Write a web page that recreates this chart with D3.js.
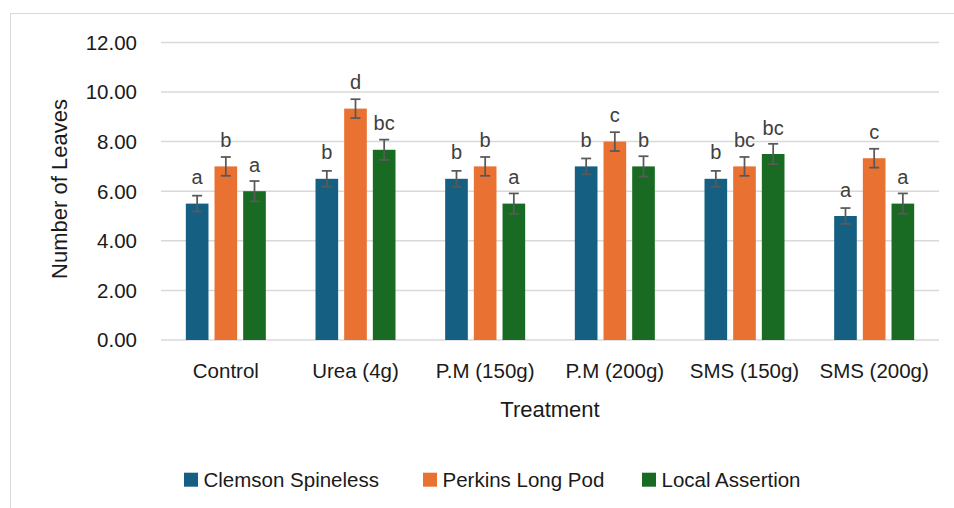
<!DOCTYPE html>
<html>
<head>
<meta charset="utf-8">
<script src="https://cdn.jsdelivr.net/npm/d3@7"></script>
<style>
  body { margin: 0; background: #fff; }
  svg { display: block; font-family: "Liberation Sans", Arial, sans-serif; }
</style>
</head>
<body>
<svg id="chart"></svg>
<script>
// data
const treatments = ["Control", "Urea (4g)", "P.M (150g)", "P.M (200g)", "SMS (150g)", "SMS (200g)"];
const varieties = ["Clemson Spineless", "Perkins Long Pod", "Local Assertion"];
const clemson = [5.5, 6.5, 6.5, 7.0, 6.5, 5.0];
const perkins = [7.0, 9.33, 7.0, 8.0, 7.0, 7.33];
const local = [6.0, 7.67, 5.5, 7.0, 7.5, 5.5];
const clemsonErr = [0.32, 0.32, 0.32, 0.32, 0.32, 0.32];
const perkinsErr = [0.38, 0.38, 0.38, 0.38, 0.38, 0.38];
const localErr = [0.41, 0.41, 0.41, 0.41, 0.41, 0.41];
const clemsonLetters = ["a", "b", "b", "b", "b", "a"];
const perkinsLetters = ["b", "d", "b", "c", "bc", "c"];
const localLetters = ["a", "bc", "a", "b", "bc", "a"];
const yTicks = [0, 2, 4, 6, 8, 10, 12];

const colors = ["#156082", "#E97132", "#196B24"];

const width = 954;
const height = 508;

const svg = d3.select("#chart").attr("width", width).attr("height", height);

// chart border
svg.append("rect")
    .attr("x", 10.5).attr("y", 13.5)
    .attr("width", 960).attr("height", 520)
    .attr("fill", "none")
    .attr("stroke", "#d9d9d9");

const plotLeft = 161, plotRight = 939, plotTop = 42.4, plotBottom = 340;

const x = d3.scaleBand().domain(treatments).range([plotLeft, plotRight]).padding(0);
const y = d3.scaleLinear().domain([0, 12]).range([plotBottom, plotTop]);

// gridlines
svg.append("g")
    .selectAll("line")
    .data(yTicks)
    .join("line")
    .attr("x1", plotLeft).attr("x2", plotRight)
    .attr("y1", d => y(d)).attr("y2", d => y(d))
    .attr("stroke", "#d9d9d9")
    .attr("stroke-width", 1.5);

// y tick labels
svg.append("g")
    .selectAll("text")
    .data(yTicks)
    .join("text")
    .attr("x", 137)
    .attr("y", d => y(d) + 7.3)
    .attr("text-anchor", "end")
    .attr("font-size", 20.5)
    .attr("fill", "#1a1a1a")
    .text(d => d.toFixed(2));

// x category labels
svg.append("g")
    .selectAll("text")
    .data(treatments)
    .join("text")
    .attr("x", d => x(d) + x.bandwidth() / 2)
    .attr("y", 377.5)
    .attr("text-anchor", "middle")
    .attr("font-size", 20.5)
    .attr("fill", "#1a1a1a")
    .text(d => d);

// axis titles
svg.append("text")
    .attr("x", 550).attr("y", 416.5)
    .attr("text-anchor", "middle")
    .attr("font-size", 22)
    .attr("fill", "#1a1a1a")
    .text("Treatment");

svg.append("text")
    .attr("transform", "translate(67,189) rotate(-90)")
    .attr("text-anchor", "middle")
    .attr("font-size", 22)
    .attr("fill", "#1a1a1a")
    .text("Number of Leaves");

// bars
const series = [
    { name: varieties[0], values: clemson, err: clemsonErr, letters: clemsonLetters },
    { name: varieties[1], values: perkins, err: perkinsErr, letters: perkinsLetters },
    { name: varieties[2], values: local, err: localErr, letters: localLetters },
];

const groupHalf = 40;
const inner = d3.scaleBand().domain(varieties).range([-groupHalf, groupHalf]).paddingInner(0.21).paddingOuter(0);

series.forEach((s, si) => {
    const g = svg.append("g");
    const rows = treatments.map((t, i) => ({ t, v: s.values[i], e: s.err[i], l: s.letters[i] }));
    const cx = d => x(d.t) + x.bandwidth() / 2 + inner(s.name);

    g.selectAll("rect")
        .data(rows)
        .join("rect")
        .attr("x", cx)
        .attr("y", d => y(d.v))
        .attr("width", inner.bandwidth())
        .attr("height", d => y(0) - y(d.v))
        .attr("fill", colors[si]);

    const mid = d => cx(d) + inner.bandwidth() / 2;

    g.selectAll(".err")
        .data(rows)
        .join("line")
        .attr("class", "err")
        .attr("x1", mid).attr("x2", mid)
        .attr("y1", d => y(d.v + d.e)).attr("y2", d => y(d.v - d.e))
        .attr("stroke", "#595959").attr("stroke-width", 1.75);

    [1, -1].forEach(sign => {
        g.selectAll(".cap" + (sign > 0 ? "up" : "down"))
            .data(rows)
            .join("line")
            .attr("class", "cap" + (sign > 0 ? "up" : "down"))
            .attr("x1", d => mid(d) - 5).attr("x2", d => mid(d) + 5)
            .attr("y1", d => y(d.v + sign * d.e)).attr("y2", d => y(d.v + sign * d.e))
            .attr("stroke", "#595959").attr("stroke-width", 1.75);
    });

    g.selectAll(".lbl")
        .data(rows)
        .join("text")
        .attr("class", "lbl")
        .attr("x", mid)
        .attr("y", d => y(d.v) - 19.5)
        .attr("text-anchor", "middle")
        .attr("font-size", 20)
        .attr("fill", "#404040")
        .text(d => d.l);
});

// legend
const legendX = [184, 423, 642];
const legend = svg.append("g");
varieties.forEach((name, i) => {
    legend.append("rect")
        .attr("x", legendX[i]).attr("y", 472.7)
        .attr("width", 14).attr("height", 14)
        .attr("fill", colors[i]);
    legend.append("text")
        .attr("x", legendX[i] + 19.5).attr("y", 486.5)
        .attr("font-size", 20.5)
        .attr("fill", "#1a1a1a")
        .text(name);
});
</script>
</body>
</html>
